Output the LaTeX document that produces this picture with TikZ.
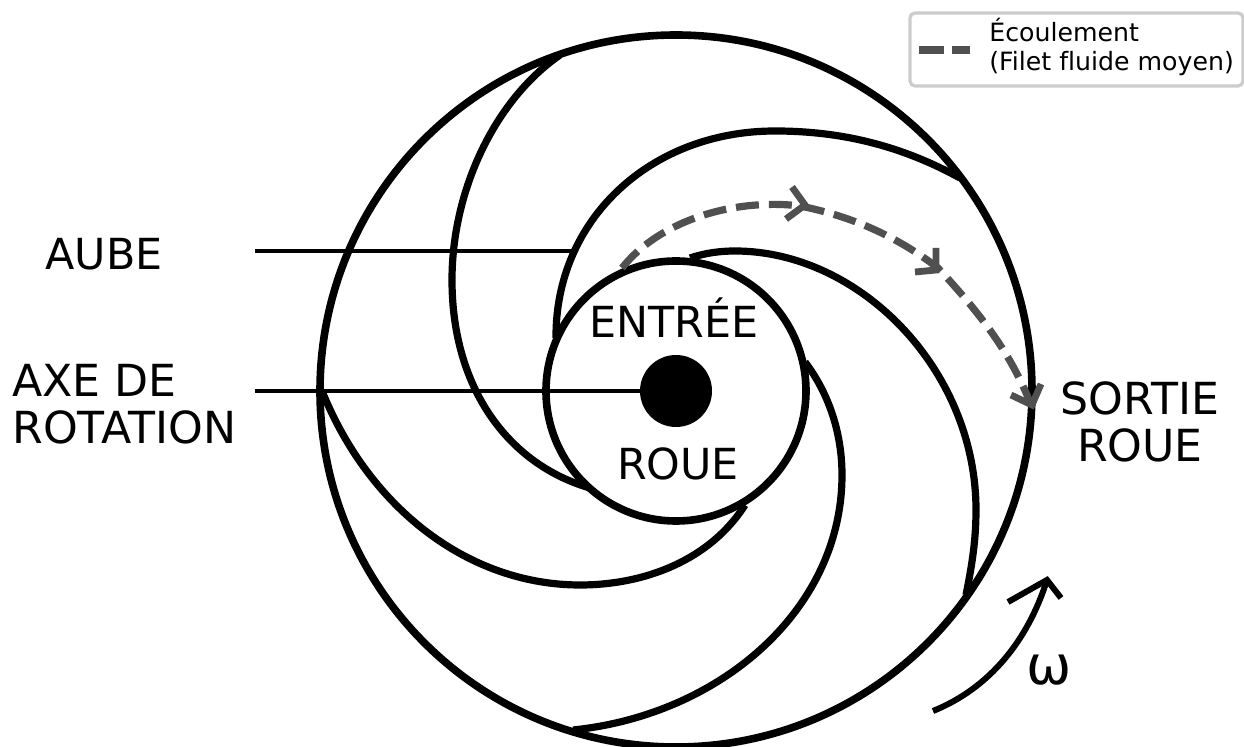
\documentclass[tikz,border=0pt]{standalone}
\usepackage{fontspec}
\setmainfont{DejaVu Sans}[Ligatures={NoCommon}]
\definecolor{flow}{HTML}{505050}
\tikzset{
  wheel/.style={line width=3.8pt,black},
  blade/.style={line width=3.6pt,black,line join=round},
  leader/.style={line width=1.6pt,black},
  biglabel/.style={font=\fontsize{21.4}{23.5}\selectfont,inner sep=0pt,text=black},
  widelabel/.style={font=\fontsize{22.1}{23.5}\selectfont,inner sep=0pt,text=black},
  flowline/.style={line width=3.6pt,flow,dash pattern=on 11.5pt off 5pt},
  chev/.style={line width=3.4pt,flow,line join=miter},
}
\begin{document}
\begin{tikzpicture}[x=0.5pt,y=-0.5pt]
\useasboundingbox (0,0) rectangle (1244,747);
\clip (0,0) rectangle (1244,747);
\coordinate (c) at (676,391);
% blades
\draw[blade] (560,55) .. controls (495,100) and (452,190) .. (452,280) .. controls (452,390) and (510,465) .. (590,488);
\draw[blade] (960,178) .. controls (900,145) and (840,131) .. (775,131) .. controls (650,131) and (555,220) .. (556,338);
\draw[blade] (966,595) .. controls (972,565) and (976,540) .. (976,510) .. controls (976,370) and (860,251) .. (735,251) .. controls (720,251) and (705,253) .. (690,258);
\draw[blade] (805,362) .. controls (830,395) and (842,435) .. (842,475) .. controls (842,610) and (720,715) .. (573,730);
\draw[blade] (745,505) .. controls (710,560) and (645,585) .. (580,585) .. controls (470,585) and (370,510) .. (322,391);
% wheel
\draw[wheel] (c) circle [radius=356];
\draw[wheel] (c) circle [radius=130];
\node[circle,fill=black,minimum size=36pt,inner sep=0pt,outer sep=0pt] (hub) at (c) {};
% leaders
\coordinate (aubeA) at (255,251);
\coordinate (aubeB) at (573,251);
\coordinate (axeA) at (255,391);
\draw[leader] (aubeA) -- (aubeB);
\draw[leader] (axeA) -- (hub);
% flow
\coordinate (f0) at (622,268);
\coordinate (f1) at (800,206);
\coordinate (f2) at (938,268);
\coordinate (f3) at (1031,405);
\draw[flowline] (f0) .. controls (660,220) and (735,198) .. (f1)
  .. controls (850,216) and (895,235) .. (f2)
  .. controls (975,308) and (1010,350) .. (f3);
\draw[chev] (792,187) -- (805,205) -- (786,219);
\draw[chev] (936,248) -- (936,270) -- (915,272);
\draw[chev] (1041,384) -- (1032,405) -- (1011,395);
% labels
\node[biglabel] (aube) at (104,254) {AUBE};
\node[widelabel,align=left,anchor=west] (axe) at (12,404) {AXE DE\\ROTATION};
\node[biglabel] (entree) at (674,318) {ENTRÉE};
\node[biglabel] (roue) at (678,464) {ROUE};
\node[widelabel,align=center] (sortie) at (1140,422) {SORTIE\\ROUE};
% omega
\coordinate (o0) at (933,711);
\coordinate (o1) at (1047,580);
\draw[line width=3pt] (o0) .. controls (990,688) and (1028,640) .. (o1);
\draw[line width=3pt,line join=miter] (1008,602) -- (o1) -- (1061,598);
\node[font=\fontsize{27}{29}\selectfont,inner sep=0pt] (omega) at (1049,670) {ω};
% legend
\draw[line width=1.6pt,draw={rgb,255:red,204;green,204;blue,204},fill=white,rounded corners=2.5pt] (910,13) rectangle (1243,86);
\coordinate (l0) at (919,50);
\coordinate (l1) at (944,50);
\coordinate (l2) at (952,50);
\coordinate (l3) at (970,50);
\draw[line width=4pt,flow] (l0) -- (l1) (l2) -- (l3);
\node[font=\fontsize{12.6}{14.5}\selectfont,align=left,anchor=west,inner sep=0pt] (legend) at (989,47) {Écoulement\\(Filet fluide moyen)};
\end{tikzpicture}
\end{document}
